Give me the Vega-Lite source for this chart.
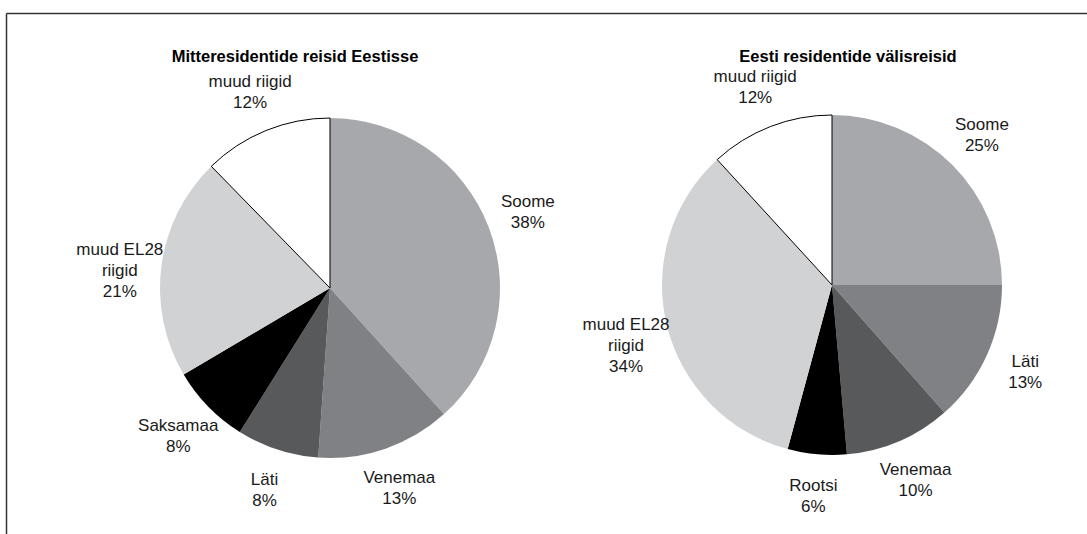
{
  "$schema": "https://vega.github.io/schema/vega-lite/v6.json",
  "autosize": "none",
  "padding": {"left": 6, "top": 13, "right": 0, "bottom": 0},
  "width": 1081,
  "height": 521,
  "background": "white",
  "view": {"stroke": null},
  "config": {"font": "Liberation Sans"},
  "datasets": {
    "left": [
      {"chart": "Mitteresidentide reisid Eestisse", "idx": 1, "country": "Soome", "value": 38.3, "label": "Soome\n38%"},
      {"chart": "Mitteresidentide reisid Eestisse", "idx": 2, "country": "Venemaa", "value": 12.8, "label": "Venemaa\n13%"},
      {"chart": "Mitteresidentide reisid Eestisse", "idx": 3, "country": "Läti", "value": 7.8, "label": "Läti\n8%"},
      {"chart": "Mitteresidentide reisid Eestisse", "idx": 4, "country": "Saksamaa", "value": 7.6, "label": "Saksamaa\n8%"},
      {"chart": "Mitteresidentide reisid Eestisse", "idx": 5, "country": "muud EL28 riigid", "value": 21.2, "label": "muud EL28\nriigid\n21%"},
      {"chart": "Mitteresidentide reisid Eestisse", "idx": 6, "country": "muud riigid", "value": 12.3, "label": "muud riigid\n12%"}
    ],
    "right": [
      {"chart": "Eesti residentide välisreisid", "idx": 1, "country": "Soome", "value": 25.0, "label": "Soome\n25%"},
      {"chart": "Eesti residentide välisreisid", "idx": 2, "country": "Läti", "value": 13.5, "label": "Läti\n13%"},
      {"chart": "Eesti residentide välisreisid", "idx": 3, "country": "Venemaa", "value": 10.1, "label": "Venemaa\n10%"},
      {"chart": "Eesti residentide välisreisid", "idx": 4, "country": "Rootsi", "value": 5.6, "label": "Rootsi\n6%"},
      {"chart": "Eesti residentide välisreisid", "idx": 5, "country": "muud EL28 riigid", "value": 34.0, "label": "muud EL28\nriigid\n34%"},
      {"chart": "Eesti residentide välisreisid", "idx": 6, "country": "muud riigid", "value": 11.8, "label": "muud riigid\n12%"}
    ],
    "titles": [
      {"chart": "Mitteresidentide reisid Eestisse", "side": "left"},
      {"chart": "Eesti residentide välisreisid", "side": "right"}
    ]
  },
  "resolve": {"scale": {"x": "independent", "y": "independent"}},
  "layer": [
    {
      "data": {"name": "titles"},
      "mark": {"type": "point", "opacity": 0},
      "encoding": {
        "x": {"field": "side", "type": "nominal", "scale": {"type": "point"}, "axis": {"orient": "top", "domain": true, "domainColor": "#333333", "domainWidth": 1.5, "ticks": false, "labels": false, "grid": false, "title": null}},
        "y": {"field": "side", "type": "nominal", "scale": {"type": "point"}, "axis": {"orient": "left", "domain": true, "domainColor": "#333333", "domainWidth": 1.5, "ticks": false, "labels": false, "grid": false, "title": null}}
      }
    },
    {
      "layer": [
        {
          "data": {"name": "left"},
          "mark": {"type": "arc", "outerRadius": 170, "strokeWidth": 1},
          "encoding": {
            "theta": {"field": "value", "type": "quantitative", "stack": true, "scale": {"domain": [0, 100]}},
            "order": {"field": "idx", "type": "quantitative"},
            "color": {"field": "idx", "type": "ordinal", "scale": {"domain": [1, 2, 3, 4, 5, 6], "range": ["#a7a8ab", "#808184", "#58595b", "#000000", "#d1d2d4", "#ffffff"]}, "legend": null},
            "stroke": {"condition": {"test": "datum.idx === 6", "value": "#000000"}, "value": null}
          }
        },
        {
          "data": {"name": "left"},
          "mark": {"type": "text", "radius": 212, "dy": -10, "fontSize": 17, "lineBreak": "\n", "lineHeight": 21, "color": "#1a1a1a", "baseline": "middle", "align": "center"},
          "encoding": {
            "theta": {"field": "value", "type": "quantitative", "stack": true},
            "order": {"field": "idx", "type": "quantitative"},
            "detail": {"field": "idx", "type": "ordinal"},
            "text": {"field": "label", "type": "nominal"}
          }
        },
        {
          "data": {"name": "right"},
          "mark": {"type": "arc", "outerRadius": 170, "strokeWidth": 1},
          "encoding": {
            "theta": {"field": "value", "type": "quantitative", "stack": true},
            "order": {"field": "idx", "type": "quantitative"},
            "color": {"field": "idx", "type": "ordinal", "legend": null},
            "stroke": {"condition": {"test": "datum.idx === 6", "value": "#000000"}, "value": null}
          }
        },
        {
          "data": {"name": "right"},
          "mark": {"type": "text", "radius": 212, "dy": -10, "fontSize": 17, "lineBreak": "\n", "lineHeight": 21, "color": "#1a1a1a", "baseline": "middle", "align": "center"},
          "encoding": {
            "theta": {"field": "value", "type": "quantitative", "stack": true},
            "order": {"field": "idx", "type": "quantitative"},
            "detail": {"field": "idx", "type": "ordinal"},
            "text": {"field": "label", "type": "nominal"}
          }
        },
        {
          "data": {"name": "titles"},
          "transform": [{"filter": "datum.side === 'left'"}],
          "mark": {"type": "text", "fontSize": 16.5, "fontWeight": "bold", "color": "#000000", "dx": -35, "dy": -231, "baseline": "middle", "align": "center"},
          "encoding": {"text": {"field": "chart", "type": "nominal"}}
        },
        {
          "data": {"name": "titles"},
          "transform": [{"filter": "datum.side === 'right'"}],
          "mark": {"type": "text", "fontSize": 16.5, "fontWeight": "bold", "color": "#000000", "dx": 16, "dy": -228, "baseline": "middle", "align": "center"},
          "encoding": {"text": {"field": "chart", "type": "nominal"}}
        }
      ],
      "encoding": {
        "x": {
          "field": "chart",
          "type": "nominal",
          "scale": {"type": "point", "padding": 0, "domain": ["Mitteresidentide reisid Eestisse", "Eesti residentide välisreisid"], "range": [324, 826]},
          "axis": null
        },
        "y": {
          "field": "chart",
          "type": "nominal",
          "scale": {"type": "point", "padding": 0, "domain": ["Mitteresidentide reisid Eestisse", "Eesti residentide välisreisid"], "range": [275, 272]},
          "axis": null
        }
      }
    }
  ]
}
